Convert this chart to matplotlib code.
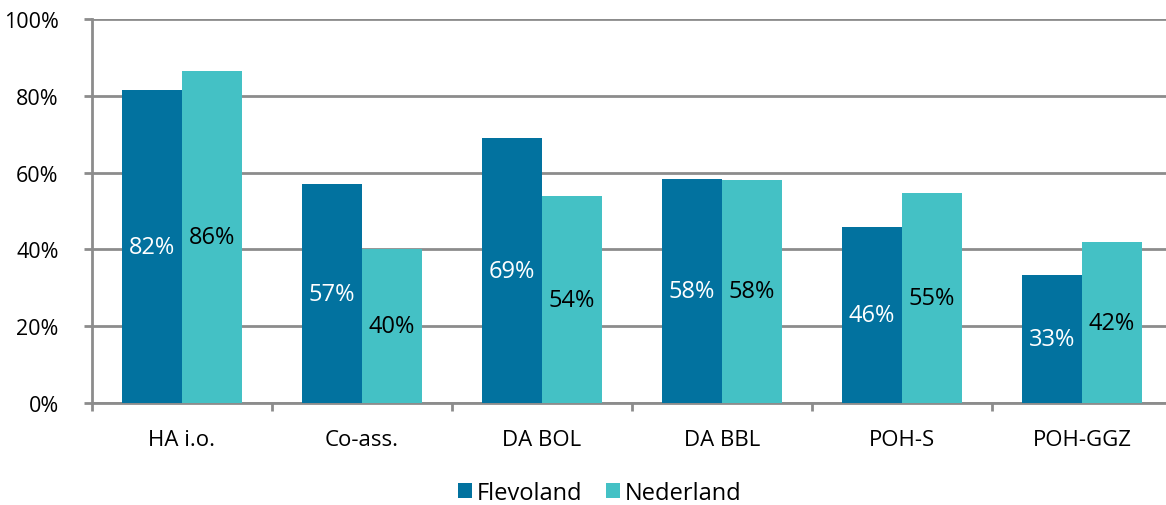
import numpy as np
import matplotlib.pyplot as plt
from matplotlib.ticker import PercentFormatter

plt.rcParams['font.family'] = ['Open Sans', 'DejaVu Sans']

categories = ["HA i.o.", "Co-ass.", "DA BOL", "DA BBL", "POH-S", "POH-GGZ"]
flevoland = [81.5, 57.0, 69.0, 58.3, 45.8, 33.3]
nederland = [86.5, 40.1, 53.9, 58.1, 54.7, 41.9]
flevo_labels = ["82%", "57%", "69%", "58%", "46%", "33%"]
ned_labels = ["86%", "40%", "54%", "58%", "55%", "42%"]

c_flevo = '#02729F'
c_ned = '#44C1C5'
grid_c = '#8C8C8C'

fig = plt.figure(figsize=(11.66, 5.06), dpi=100)
ax = fig.add_axes([92/1166, 102/506, 1080/1166, 384/506])

x = np.arange(len(categories))
w = 1/3
b1 = ax.bar(x - w/2, flevoland, w, color=c_flevo, label="Flevoland", zorder=3)
b2 = ax.bar(x + w/2, nederland, w, color=c_ned, label="Nederland", zorder=3)

# labels in the middle of each bar
for rect, lab in zip(b1, flevo_labels):
    ax.text(rect.get_x() + rect.get_width()/2, rect.get_height()/2, lab,
            ha='center', va='center', color='white', fontsize=17, zorder=4)
for rect, lab in zip(b2, ned_labels):
    ax.text(rect.get_x() + rect.get_width()/2, rect.get_height()/2, lab,
            ha='center', va='center', color='black', fontsize=17, zorder=4)

ax.set_xlim(-0.5, len(categories) - 0.5)
ax.set_ylim(0, 100)
ax.set_yticks(np.arange(0, 101, 20))
ax.yaxis.set_major_formatter(PercentFormatter(decimals=0))
ax.yaxis.grid(True, color=grid_c, linewidth=2, zorder=0)

# category ticks at group boundaries, labels centered
ax.set_xticks(np.arange(-0.5, len(categories), 1))
ax.set_xticklabels([])
ax.set_xticks(x, minor=True)
ax.set_xticklabels(categories, minor=True)
ax.tick_params(axis='x', which='minor', length=0, pad=19, labelsize=16)
ax.tick_params(axis='x', which='major', length=6, width=2, color=grid_c)
ax.tick_params(axis='y', length=6, width=2, color=grid_c, labelsize=15.5, pad=18)

for s in ['top', 'right']:
    ax.spines[s].set_visible(False)
ax.spines['left'].set_color(grid_c)
ax.spines['left'].set_linewidth(2)
ax.spines['bottom'].set_color(grid_c)
ax.spines['bottom'].set_linewidth(2)

ax.legend(loc='center', bbox_to_anchor=(600/1166, 12/506),
          bbox_transform=fig.transFigure, ncol=2, frameon=False,
          fontsize=17, handlelength=0.6, handleheight=0.6, handletextpad=0.2,
          columnspacing=1.0)

fig.savefig('out.png', dpi=100)
